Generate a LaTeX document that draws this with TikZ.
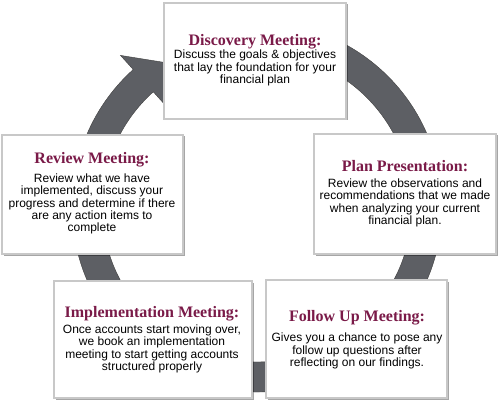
\documentclass[tikz,border=0pt]{standalone}
\usepackage{fontspec}
\setmainfont{Liberation Serif}
\newfontfamily\bodyfont{Liberation Sans}
\usetikzlibrary{calc,shadows}
\definecolor{ringgray}{RGB}{93,95,100}
\definecolor{titlered}{RGB}{122,26,72}
\definecolor{boxline}{RGB}{200,200,200}
\begin{document}
\begin{tikzpicture}[x=1pt,y=-1pt,
  card/.style={draw=boxline, line width=1.2pt, fill=white, inner sep=0pt,
    drop shadow={shadow xshift=1.5pt, shadow yshift=-1.5pt, opacity=0.35, fill=black}},
  ttl/.style={font=\fontsize{16}{18}\selectfont\bfseries, text=titlered, inner sep=0pt},
  bodytxt/.style={font=\bodyfont\fontsize{12}{12.3}\selectfont, align=center, inner sep=0pt},
  ring/.style={fill=ringgray, draw=black!75, line width=0.4pt}]
\useasboundingbox (0,0) rectangle (500,403);
\coordinate (c) at (257,207);
\path[ring] ($(c)+(-100:185)$) arc[start angle=-100,end angle=228,radius=185]
  -- ($(c)+(228:204)$) -- ($(c)+(238:170)$) -- ($(c)+(228:136)$)
  -- ($(c)+(228:155)$) arc[start angle=228,end angle=-100,radius=155] -- cycle;

\node[card, minimum width=182pt, minimum height=116pt] (disc) at (255,61) {};
\node[card, minimum width=181pt, minimum height=119pt] (rev) at (92.5,194.5) {};
\node[card, minimum width=182pt, minimum height=120pt] (plan) at (405,194) {};
\node[card, minimum width=198pt, minimum height=117pt] (impl) at (153,339.5) {};
\node[card, minimum width=181pt, minimum height=118pt] (foll) at (356.5,339) {};

\node[ttl] (discT) at (255,42) {Discovery Meeting:};
\node[bodytxt] (discB) at (255,68) {Discuss the goals \& objectives\\that lay the foundation for your\\financial plan};

\node[ttl] (revT) at (92,160) {Review Meeting:};
\node[bodytxt] (revB) at (92,204) {Review what we have\\implemented, discuss your\\progress and determine if there\\are any action items to\\complete};

\node[ttl] (planT) at (405,166) {Plan Presentation:};
\node[bodytxt] (planB) at (405,203) {Review the observations and\\recommendations that we made\\when analyzing your current\\financial plan.};

\node[ttl] (implT) at (152,314) {Implementation Meeting:};
\node[bodytxt] (implB) at (152,349) {Once accounts start moving over,\\we book an implementation\\meeting to start getting accounts\\structured properly};

\node[ttl] (follT) at (357,318) {Follow Up Meeting:};
\node[bodytxt] (follB) at (357,351) {Gives you a chance to pose any\\follow up questions after\\reflecting on our findings.};
\end{tikzpicture}
\end{document}
